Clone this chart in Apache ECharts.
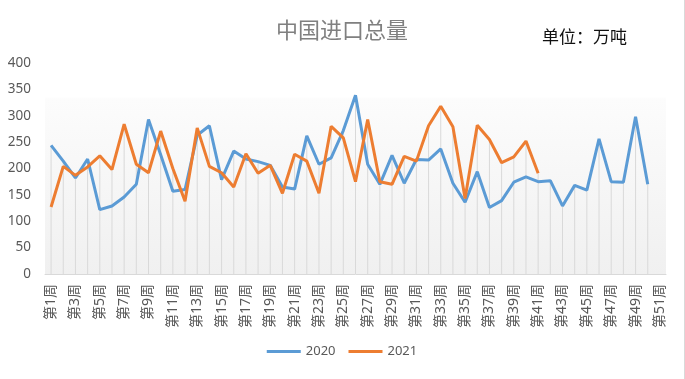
<!DOCTYPE html>
<html>
<head>
<meta charset="utf-8">
<script src="https://cdn.jsdelivr.net/npm/echarts@6/dist/echarts.min.js"></script>
<style>
html,body{margin:0;padding:0;background:#fff;}
#c{width:684px;height:379px;border-right:1px solid #d9d9d9;}
</style>
</head>
<body>
<div id="c"></div>
<script>
var weeks = ['第1周','第2周','第3周','第4周','第5周','第6周','第7周','第8周','第9周','第10周',
  '第11周','第12周','第13周','第14周','第15周','第16周','第17周','第18周','第19周','第20周',
  '第21周','第22周','第23周','第24周','第25周','第26周','第27周','第28周','第29周','第30周',
  '第31周','第32周','第33周','第34周','第35周','第36周','第37周','第38周','第39周','第40周',
  '第41周','第42周','第43周','第44周','第45周','第46周','第47周','第48周','第49周','第50周','第51周'];
var values2020 = [244,214,182,218,122,129,146,170,293,226,
  157,160,263,281,179,233,218,213,206,165,
  161,262,208,220,272,339,208,170,225,172,
  217,216,237,172,136,194,126,139,174,184,
  175,177,129,168,159,256,175,174,298,170];
var values2021 = [127,204,187,203,224,198,284,208,192,271,
  200,138,277,204,192,165,228,191,206,153,
  227,214,153,280,258,175,293,175,170,223,
  214,281,318,279,143,282,255,211,222,252,191];
var yTicks = [0,50,100,150,200,250,300,350,400];

var dropValues = weeks.map(function(w, i){
  var a = values2020[i], b = values2021[i];
  var vals = [a, b].filter(function(v){ return v != null; });
  return vals.length ? Math.max.apply(null, vals) : null;
});

var font = "'Noto Sans','Noto Sans CJK SC',sans-serif";
var chart = echarts.init(document.getElementById('c'), null, {renderer:'canvas'});
chart.setOption({
  animation: false,
  textStyle: {fontFamily: font},
  title: [{
    text: '中国进口总量',
    left: 'center',
    top: 14,
    textStyle: {fontSize: 22, fontWeight: 'normal', color: '#808080', fontFamily: "'Noto Sans CJK SC',sans-serif"}
  }, {
    text: '单位：万吨',
    left: 537,
    top: 23,
    textStyle: {fontSize: 17, fontWeight: 'normal', color: '#111', fontFamily: "'Noto Sans CJK SC',sans-serif"}
  }],
  legend: {
    data: ['2020','2021'],
    bottom: 16,
    left: 'center',
    icon: 'rect',
    itemWidth: 34,
    itemHeight: 3,
    itemGap: 13,
    textStyle: {fontSize: 13, color: '#595959', fontFamily: font}
  },
  grid: {
    left: 45, right: 18, top: 63, bottom: 105,
    show: true,
    borderWidth: 0,
    backgroundColor: new echarts.graphic.LinearGradient(0,0,0,1,[
      {offset:0, color:'#ffffff'},
      {offset:0.16, color:'#ffffff'},
      {offset:0.17, color:'#fcfcfc'},
      {offset:1, color:'#f0f0f0'}
    ])
  },
  xAxis: {
    type: 'category',
    data: weeks,
    boundaryGap: true,
    axisLine: {lineStyle: {color: '#d9d9d9', width: 1}},
    axisTick: {show: false},
    axisLabel: {rotate: 90, interval: 1, fontSize: 14, color: '#595959', margin: 10, fontFamily: font},
    splitLine: {show: false}
  },
  yAxis: {
    type: 'value',
    min: yTicks[0], max: yTicks[yTicks.length-1], interval: 50,
    axisLine: {show: false},
    axisTick: {show: false},
    splitLine: {show: false},
    axisLabel: {fontSize: 13.5, color: '#595959', margin: 14, fontFamily: font}
  },
  series: [{
    name: 'drop',
    type: 'bar',
    data: dropValues,
    barWidth: 1,
    itemStyle: {color: '#d9d9d9'},
    silent: true,
    z: 1
  }, {
    name: '2020',
    type: 'line',
    data: values2020,
    symbol: 'none',
    lineStyle: {width: 3, color: '#5b9bd5'},
    itemStyle: {color: '#5b9bd5'},
    z: 3
  }, {
    name: '2021',
    type: 'line',
    data: values2021,
    symbol: 'none',
    lineStyle: {width: 3, color: '#ed7d31'},
    itemStyle: {color: '#ed7d31'},
    z: 4
  }]
});
</script>
</body>
</html>
